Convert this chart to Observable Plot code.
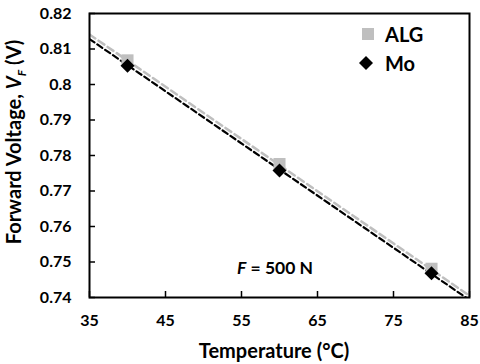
<!DOCTYPE html>
<html>
<head>
<meta charset="utf-8">
<script src="https://cdn.jsdelivr.net/npm/d3@7"></script>
<script src="https://cdn.jsdelivr.net/npm/@observablehq/plot@0.6"></script>
<style>
  body { margin: 0; background: #fff; }
  #wrap { position: relative; width: 480px; height: 364px; font-family: Lato, "Open Sans", sans-serif; font-weight: bold; color: #000; }
  .ov { position: absolute; white-space: nowrap; }
  #ylab { left: 15px; top: 142px; transform: translate(-50%, -50%) rotate(-90deg); font-size: 20px; }
  #xlab { left: 274px; top: 350px; transform: translate(-50%, -50%); font-size: 20px; }
  #ann { left: 275px; top: 267px; transform: translate(-50%, -50%); font-size: 17.5px; }
  .leg { font-size: 20px; transform: translateY(-50%); left: 385px; }
</style>
</head>
<body>
<div id="wrap"></div>
<script>
const temps = [40, 60, 80];
const algVF = [0.8068, 0.7776, 0.7481];
const moVF = [0.8053, 0.7758, 0.7468];
const trendT = [35, 85];
const algTrend = [0.8141, 0.7405];
const moTrend = [0.8128, 0.7393];
const xTicks = [35, 45, 55, 65, 75, 85];
const yTicks = [0.74, 0.75, 0.76, 0.77, 0.78, 0.79, 0.8, 0.81, 0.82];

const alg = temps.map((t, i) => ({t, v: algVF[i]}));
const mo = temps.map((t, i) => ({t, v: moVF[i]}));
const algLine = trendT.map((t, i) => ({t, v: algTrend[i]}));
const moLine = trendT.map((t, i) => ({t, v: moTrend[i]}));
const fmt = d => String(+d.toFixed(2));

const chart = Plot.plot({
  width: 480,
  height: 364,
  marginLeft: 89,
  marginRight: 11,
  marginTop: 13,
  marginBottom: 67,
  style: {fontFamily: "Lato, 'Open Sans', sans-serif", fontWeight: "bold", fontSize: "16px", color: "#000", background: "#fff"},
  x: {domain: [35, 85], ticks: xTicks, label: null},
  y: {domain: [0.74, 0.82], ticks: yTicks, label: null},
  marks: [
    Plot.line(algLine, {x: "t", y: "v", stroke: "#bfbfbf", strokeWidth: 2.5, strokeDasharray: "7,4", clip: true}),
    Plot.line(moLine, {x: "t", y: "v", stroke: "#000", strokeWidth: 2.2, strokeDasharray: "6,3.5", clip: true}),
    Plot.dot(alg, {x: "t", y: "v", symbol: "square", r: 6.8, fill: "#bfbfbf", stroke: "none"}),
    Plot.dot(mo, {x: "t", y: "v", symbol: "diamond2", r: 6.3, fill: "#000", stroke: "none"}),
    // inward tick marks
    Plot.axisX({ticks: xTicks, tickSize: 6, dy: -6, strokeWidth: 1.5, tickFormat: () => "", label: null}),
    Plot.axisY({ticks: yTicks, tickSize: 6, dx: 6, strokeWidth: 1.5, tickFormat: () => "", label: null}),
    // tick labels
    Plot.axisX({ticks: xTicks, tickSize: 0, tickPadding: 17, label: null, fontSize: 16}),
    Plot.axisY({ticks: yTicks, tickSize: 0, tickPadding: 18, tickFormat: fmt, label: null, fontSize: 16}),
    Plot.frame({stroke: "#000", strokeWidth: 2})
  ]
});

const wrap = document.getElementById("wrap");
wrap.appendChild(chart);
wrap.insertAdjacentHTML("beforeend", `
  <div class="ov" id="ylab">Forward Voltage, <i>V<sub style="font-size:12px">F</sub></i> (V)</div>
  <div class="ov" id="xlab">Temperature (°C)</div>
  <div class="ov" id="ann"><i>F</i> = 500 N</div>
  <svg class="ov" style="left:358px;top:26px" width="18" height="46">
    <rect x="4" y="2" width="12" height="12" fill="#bfbfbf"></rect>
    <path d="M8,30 L15,37 L8,44 L1,37 Z" fill="#000"></path>
  </svg>
  <div class="ov leg" style="top:34px">ALG</div>
  <div class="ov leg" style="top:63px">Mo</div>
`);
</script>
</body>
</html>
